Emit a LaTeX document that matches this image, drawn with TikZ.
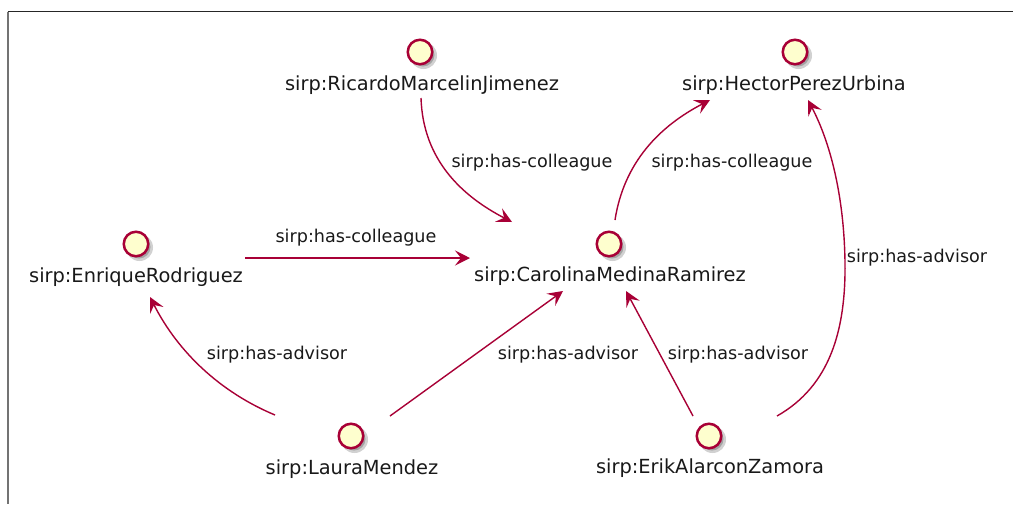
\documentclass[tikz,border=0pt]{standalone}
\usepackage{fontspec}
\setmainfont{DejaVu Sans}
\usetikzlibrary{arrows.meta}
\definecolor{edgered}{HTML}{A80036}
\definecolor{entfill}{HTML}{FEFECE}
\begin{document}
\begin{tikzpicture}[x=1pt,y=-1pt,
  ent/.style={circle, draw=edgered, fill=entfill, line width=2.5pt, minimum size=24.5pt, inner sep=0pt},
  entshadow/.style={circle, fill=black, opacity=0.18, minimum size=27pt, inner sep=0pt},
  entshadowin/.style={circle, fill=black, opacity=0.22, minimum size=23pt, inner sep=0pt},
  entlabel/.style={font=\fontsize{19.4}{22}\selectfont, inner sep=0pt, text=black!90},
  rellabel/.style={font=\fontsize{17.6}{20}\selectfont, inner sep=0pt, text=black!90},
  rel/.style={draw=edgered, line width=1.4pt, -{Stealth[length=15pt,width=15pt,inset=6pt]}}]
\useasboundingbox (0,0) rectangle (1013,504);
\fill[white] (0,0) rectangle (1013,504);
% frame
\draw[black!85, line width=1.3pt] (7.5,11.5) -- (1013,11.5);
\draw[black!55, line width=2pt] (7.5,11.5) -- (7.5,504);
% shadows
\foreach \x/\y in {420/52,795/52,136/244,609/244,351/436,709/436}{
  \node[entshadow] at (\x+3.5,\y+3.5) {};
  \node[entshadowin] at (\x+3,\y+3) {};
}
% entities
\node[ent] (ric) at (420,52) {};
\node[ent] (hec) at (795,52) {};
\node[ent] (enr) at (136,244) {};
\node[ent] (car) at (609,244) {};
\node[ent] (lau) at (351,436) {};
\node[ent] (eri) at (709,436) {};
\node[entlabel] (ricL) at (422,85) {sirp:RicardoMarcelinJimenez};
\node[entlabel] (hecL) at (794,85) {sirp:HectorPerezUrbina};
\node[entlabel] (enrL) at (136,277) {sirp:EnriqueRodriguez};
\node[entlabel] (carL) at (610,276) {sirp:CarolinaMedinaRamirez};
\node[entlabel] (lauL) at (352,469) {sirp:LauraMendez};
\node[entlabel] (eriL) at (710,468) {sirp:ErikAlarconZamora};
% relations
\draw[rel] ([shift={(1,46)}]ric.center) .. controls (423,160) and (462,196) .. ([shift={(-97,-22)}]car.center);
\draw[rel] ([shift={(6,-24)}]car.center) .. controls (624,162) and (660,126) .. ([shift={(-85,48)}]hec.center);
\draw[rel] ([shift={(109,14)}]enr.center) -- ([shift={(-139,14)}]car.center);
\draw[rel] ([shift={(-76,-21)}]lau.center) .. controls (220,392) and (178,352) .. ([shift={(14,53)}]enr.center);
\draw[rel] ([shift={(39,-20)}]lau.center) -- ([shift={(-46,47)}]car.center);
\draw[rel] ([shift={(-16,-20)}]eri.center) -- ([shift={(17,47)}]car.center);
\draw[rel] ([shift={(68,-20)}]eri.center) .. controls (830,386) and (846,330) .. (845,262)
  .. controls (844,195) and (830,142) .. ([shift={(13,48)}]hec.center);
% relation labels
\node[rellabel] (l1) at (532,163) {sirp:has-colleague};
\node[rellabel] (l2) at (732,163) {sirp:has-colleague};
\node[rellabel] (l3) at (356,238) {sirp:has-colleague};
\node[rellabel] (l4) at (277,355) {sirp:has-advisor};
\node[rellabel] (l5) at (568,355) {sirp:has-advisor};
\node[rellabel] (l6) at (738,355) {sirp:has-advisor};
\node[rellabel] (l7) at (917,258) {sirp:has-advisor};
\end{tikzpicture}
\end{document}
